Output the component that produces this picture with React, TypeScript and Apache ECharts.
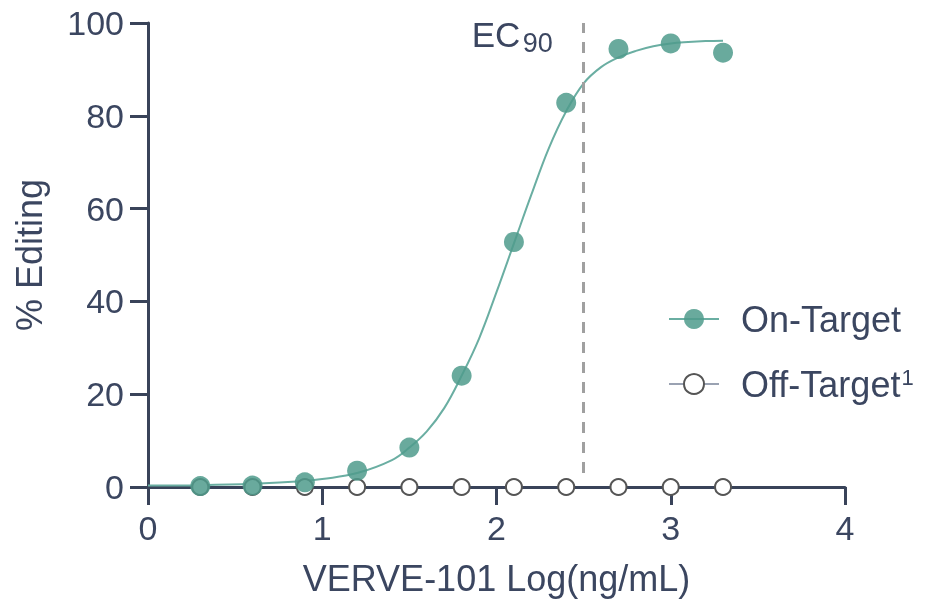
import React, { useEffect, useRef } from "react";
import * as echarts from "echarts";

// Measured data points (x = log10 ng/mL, y = % editing)
const doseX = [0.3, 0.6, 0.9, 1.2, 1.5, 1.8, 2.1, 2.4, 2.7, 3.0, 3.3];
const onTargetY = [0.2, 0.3, 1.0, 3.5, 8.5, 24, 52.8, 82.8, 94.4, 95.6, 93.6];
const offTargetY = [0, 0, 0, 0, 0, 0, 0, 0, 0, 0, 0];

// Fitted curve
const fitX = [0, 0.3, 0.6, 0.9, 1.0, 1.2, 1.4, 1.5, 1.6, 1.7, 1.8, 1.9, 2.0, 2.1, 2.2, 2.3, 2.4, 2.5, 2.6, 2.7, 2.8, 2.9, 3.0, 3.1, 3.2, 3.3];
const fitY = [0.3, 0.4, 0.7, 1.3, 1.7, 3.0, 5.8, 8.5, 12, 17, 24, 32, 42, 52.5, 63, 73, 81, 87, 90.5, 92.6, 94, 95, 95.6, 95.9, 96.1, 96.2];

const ec90X = 2.5;
const ec90Range = [3, 100];

const xTicks = { min: 0, max: 4, interval: 1 };
const yTicks = { min: 0, max: 100, interval: 20 };

const seriesNames = ["On-Target", "Off-Target"];
const offTargetSup = "1";
const xTitle = "VERVE-101 Log(ng/mL)";
const yTitle = "% Editing";

const FONT = "'Liberation Sans', Arial, sans-serif";
const TEXT = "#3b4660";
const AXIS = "#394359";
const TEAL = "#4f9b8c";
const TEAL_LINE = "#6aaea2";

export default function App() {
  const ref = useRef<HTMLDivElement>(null);
  useEffect(() => {
    const chart = echarts.init(ref.current!, null, { renderer: "svg" });
    const axisCommon = {
      type: "value" as const,
      axisLine: { show: true, lineStyle: { color: AXIS, width: 3 } },
      axisTick: { show: true, length: 18, lineStyle: { color: AXIS, width: 3 } },
      splitLine: { show: false },
      axisLabel: { color: TEXT, fontSize: 34, fontFamily: FONT },
      nameLocation: "middle" as const,
      nameTextStyle: { color: TEXT, fontSize: 36, fontFamily: FONT },
    };
    chart.setOption({
      animation: false,
      textStyle: { fontFamily: FONT },
      grid: { left: 148, right: 88, top: 23, bottom: 121 },
      xAxis: {
        ...axisCommon,
        ...xTicks,
        name: xTitle,
        nameGap: 73,
        axisLabel: { ...axisCommon.axisLabel, margin: 24 },
      },
      yAxis: {
        ...axisCommon,
        ...yTicks,
        name: yTitle,
        nameGap: 101,
        axisLabel: { ...axisCommon.axisLabel, margin: 24 },
      },
      legend: {
        orient: "vertical",
        left: 663,
        top: 296,
        itemWidth: 50,
        itemHeight: 25,
        itemGap: 29,
        selectedMode: false,
        formatter: (name: string) =>
          name === seriesNames[1] ? `{t|${name}}{s|${offTargetSup}}` : `{t|${name}}`,
        textStyle: {
          color: TEXT,
          fontSize: 36,
          fontFamily: FONT,
          padding: [0, 0, 0, 17],
          rich: {
            t: { fontSize: 36, fontFamily: FONT, color: TEXT },
            s: { fontSize: 22, fontFamily: FONT, color: TEXT, verticalAlign: "top", padding: [0, 0, 14, 1] },
          },
        },
        data: [
          { name: seriesNames[0], lineStyle: { color: TEAL_LINE, width: 2, opacity: 1 } },
          { name: seriesNames[1], lineStyle: { color: "#9aa2b2", width: 2, opacity: 1 } },
        ],
      },
      series: [
        {
          name: "fit",
          type: "line",
          data: fitX.map((x, i) => [x, fitY[i]]),
          smooth: 0.4,
          showSymbol: false,
          silent: true,
          lineStyle: { color: TEAL_LINE, width: 2 },
          z: 2,
          markLine: {
            silent: true,
            symbol: "none",
            label: { show: false },
            lineStyle: { color: "#a0a0a0", width: 3, type: [11, 9] },
            data: [[{ coord: [ec90X, ec90Range[0]] }, { coord: [ec90X, ec90Range[1]] }]],
          },
        },
        {
          name: seriesNames[1],
          type: "line",
          data: doseX.map((x, i) => [x, offTargetY[i]]),
          symbol: "circle",
          symbolSize: 16,
          showSymbol: true,
          lineStyle: { color: "#9aa2b2", width: 2, opacity: 0 },
          itemStyle: { color: "#ffffff", borderColor: "#555555", borderWidth: 2 },
          z: 3,
        },
        {
          name: seriesNames[0],
          type: "line",
          data: doseX.map((x, i) => [x, onTargetY[i]]),
          symbol: "circle",
          symbolSize: 20,
          showSymbol: true,
          lineStyle: { color: TEAL_LINE, width: 2, opacity: 0 },
          itemStyle: { color: TEAL, opacity: 0.85 },
          z: 4,
        },
      ],
    });
    const p = chart.convertToPixel({ gridIndex: 0 }, [ec90X, ec90Range[1]]) as number[];
    chart.setOption({
      graphic: [
        {
          type: "text",
          x: p[0] - 112,
          y: p[1] + 11,
          style: { text: "EC", fontSize: 35, fontFamily: FONT, fill: TEXT, align: "left", verticalAlign: "middle" },
        },
        {
          type: "text",
          x: p[0] - 61,
          y: p[1] + 20,
          style: { text: "90", fontSize: 27, fontFamily: FONT, fill: TEXT, align: "left", verticalAlign: "middle" },
        },
      ],
    });
    return () => chart.dispose();
  }, []);
  return <div ref={ref} style={{ position: "fixed", left: 0, top: 0, width: 933, height: 608 }} />;
}
